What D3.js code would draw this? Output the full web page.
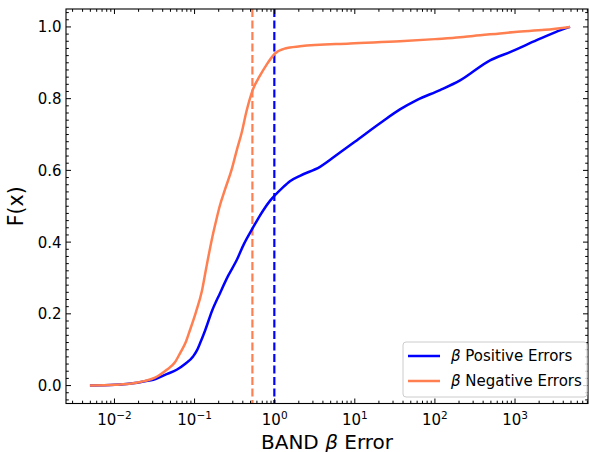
<!DOCTYPE html>
<html>
<head>
<meta charset="utf-8">
<script src="https://cdn.jsdelivr.net/npm/d3@7"></script>
<style>
  body { margin: 0; background: #fff; }
  svg { font-family: "DejaVu Sans", sans-serif; }
</style>
</head>
<body>
<svg id="chart" width="589" height="452"></svg>
<script>
// ECDF of the BAND beta errors
const posX = [0.00494, 0.01014, 0.0180, 0.0240, 0.0305, 0.0427, 0.0598, 0.0759, 0.0964, 0.107, 0.117,
  0.135, 0.165, 0.207, 0.261, 0.336, 0.414, 0.516, 0.619, 0.721, 0.873, 1.01, 1.23, 1.55, 2.07,
  3.68, 6.53, 10.0, 21.7, 36.6, 59.3, 116, 206, 488, 867, 1866, 3155, 4864];
const posF = [0.000, 0.002, 0.007, 0.012, 0.016, 0.030, 0.044, 0.060, 0.082, 0.098, 0.118,
  0.153, 0.208, 0.257, 0.305, 0.350, 0.395, 0.434, 0.465, 0.489, 0.515, 0.531, 0.550, 0.570, 0.585,
  0.610, 0.650, 0.680, 0.735, 0.770, 0.796, 0.824, 0.851, 0.907, 0.930, 0.963, 0.985, 1.000];

const negX = [0.00494, 0.01014, 0.0180, 0.0240, 0.0321, 0.0449, 0.0569, 0.0658, 0.0782, 0.0877,
  0.104, 0.123, 0.139, 0.163, 0.185, 0.207, 0.240, 0.290, 0.336, 0.387, 0.447, 0.531, 0.655,
  0.794, 1.01, 1.35, 2.07, 8.71, 36.6, 100, 206, 300, 650, 1000, 2371, 4864];
const negF = [0.000, 0.002, 0.007, 0.013, 0.022, 0.044, 0.065, 0.090, 0.123, 0.155,
  0.205, 0.262, 0.325, 0.404, 0.458, 0.502, 0.547, 0.602, 0.656, 0.705, 0.767, 0.824, 0.864,
  0.895, 0.926, 0.940, 0.946, 0.954, 0.960, 0.966, 0.971, 0.975, 0.982, 0.986, 0.992, 1.000];

// medians (vertical dashed lines)
const posMedian = 0.99;
const negMedian = 0.527;

const xDecades = [-2, -1, 0, 1, 2, 3];
const yTicks = [0, 0.2, 0.4, 0.6, 0.8, 1.0];

const BLUE = "#0000ff";
const CORAL = "#ff7f50";

const margin = { top: 9, right: 1, bottom: 48.5, left: 66 };
const width = 589 - margin.left - margin.right;
const height = 452 - margin.top - margin.bottom;

const svg = d3.select("#chart");
const g = svg.append("g").attr("transform", `translate(${margin.left},${margin.top})`);

const x = d3.scaleLog()
  .domain([Math.pow(10, -2.605), Math.pow(10, 3.911)])
  .range([0, width]);
const y = d3.scaleLinear()
  .domain([-0.05, 1.05])
  .range([height, 0]);

g.append("clipPath").attr("id", "clip")
  .append("rect").attr("width", width).attr("height", height);

const plot = g.append("g").attr("clip-path", "url(#clip)");

// vertical median lines
[[negMedian, CORAL], [posMedian, BLUE]].forEach(([m, c]) => {
  plot.append("line")
    .attr("x1", x(m)).attr("x2", x(m))
    .attr("y1", 0).attr("y2", height)
    .attr("stroke", c)
    .attr("stroke-width", 2.2)
    .attr("stroke-dasharray", "8,3.5");
});

const line = d3.line().x(d => x(d[0])).y(d => y(d[1])).curve(d3.curveMonotoneX);

plot.append("path")
  .datum(posX.map((v, i) => [v, posF[i]]))
  .attr("d", line)
  .attr("fill", "none")
  .attr("stroke", BLUE)
  .attr("stroke-width", 2.5)
  .attr("stroke-linejoin", "round");

plot.append("path")
  .datum(negX.map((v, i) => [v, negF[i]]))
  .attr("d", line)
  .attr("fill", "none")
  .attr("stroke", CORAL)
  .attr("stroke-width", 2.5)
  .attr("stroke-linejoin", "round");

// ticks, pointing inward on all four sides
const xMajor = xDecades.map(d => Math.pow(10, d));
const xMinor = [];
for (let d = -3; d <= 3; d++) {
  for (let k = 2; k <= 9; k++) {
    const v = k * Math.pow(10, d);
    if (v > x.domain()[0] && v < x.domain()[1]) xMinor.push(v);
  }
}
const yMinor = d3.range(-0.04, 1.05, 0.02).filter(v => Math.abs(Math.round(v * 5) - v * 5) > 1e-6);

const ticks = g.append("g").attr("stroke", "#000").attr("stroke-width", 1);
const addX = (vals, len) => vals.forEach(v => {
  ticks.append("line").attr("x1", x(v)).attr("x2", x(v)).attr("y1", height).attr("y2", height - len);
  ticks.append("line").attr("x1", x(v)).attr("x2", x(v)).attr("y1", 0).attr("y2", len);
});
const addY = (vals, len) => vals.forEach(v => {
  ticks.append("line").attr("x1", 0).attr("x2", len).attr("y1", y(v)).attr("y2", y(v));
  ticks.append("line").attr("x1", width).attr("x2", width - len).attr("y1", y(v)).attr("y2", y(v));
});
addX(xMajor, 5);
addX(xMinor, 2.8);
addY(yTicks, 5);
addY(yMinor, 2.8);

// frame
g.append("rect")
  .attr("width", width).attr("height", height)
  .attr("fill", "none").attr("stroke", "#000").attr("stroke-width", 1.1);

// tick labels
g.selectAll(".ylab").data(yTicks).join("text")
  .attr("class", "ylab")
  .attr("x", -4.5).attr("y", d => y(d)).attr("dy", "0.36em")
  .attr("text-anchor", "end")
  .style("font-size", "15px")
  .text(d => d.toFixed(1));

const xl = g.selectAll(".xlab").data(xDecades).join("text")
  .attr("class", "xlab")
  .attr("x", d => x(Math.pow(10, d)))
  .attr("y", height + 21.5)
  .attr("text-anchor", "middle")
  .style("font-size", "15px");
xl.append("tspan").text("10");
xl.append("tspan")
  .attr("dy", -6.5)
  .style("font-size", "10.5px")
  .text(d => d < 0 ? "\u2212" + (-d) : String(d));

// axis labels
g.append("text")
  .attr("x", width / 2).attr("y", height + 45)
  .attr("text-anchor", "middle")
  .style("font-size", "20px")
  .html('BAND <tspan font-style="italic">β</tspan> Error');

g.append("text")
  .attr("transform", `translate(${-43},${height / 2}) rotate(-90)`)
  .attr("text-anchor", "middle")
  .style("font-size", "20.5px")
  .text("F(x)");

// legend
const leg = g.append("g").attr("transform", `translate(${403 - margin.left},${342 - margin.top})`);
leg.append("rect")
  .attr("width", 184).attr("height", 55).attr("rx", 3)
  .attr("fill", "#fff").attr("fill-opacity", 0.8)
  .attr("stroke", "#cccccc").attr("stroke-width", 1);
[["Positive Errors", BLUE], ["Negative Errors", CORAL]].forEach(([label, c], i) => {
  const yy = 14 + i * 25;
  leg.append("line")
    .attr("x1", 5).attr("x2", 37).attr("y1", yy).attr("y2", yy)
    .attr("stroke", c).attr("stroke-width", 2.5);
  leg.append("text")
    .attr("x", 48).attr("y", yy).attr("dy", "0.36em")
    .style("font-size", "15px")
    .html(`<tspan font-style="italic">β</tspan> ${label}`);
});
</script>
</body>
</html>
